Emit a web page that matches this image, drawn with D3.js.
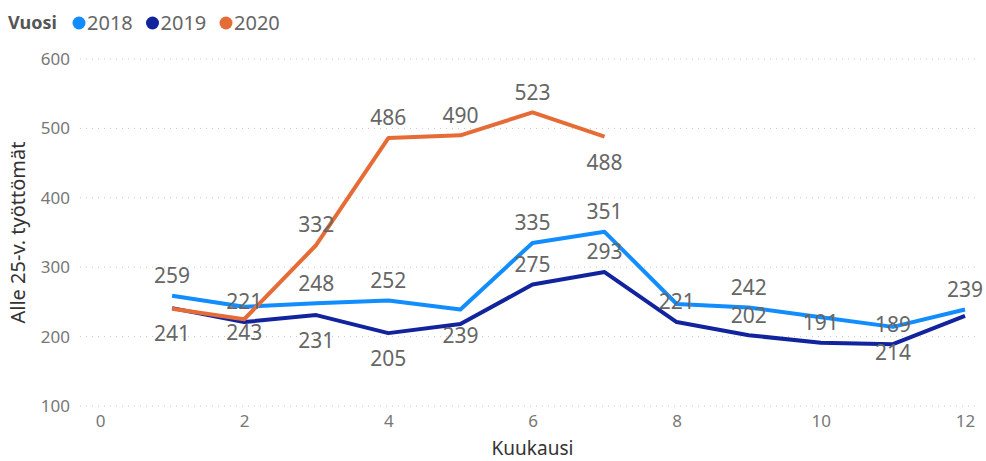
<!DOCTYPE html>
<html>
<head>
<meta charset="utf-8">
<script src="https://cdn.jsdelivr.net/npm/d3@7"></script>
<style>
  body { margin: 0; background: #fff; }
  svg { display: block; }
</style>
</head>
<body>
<script>
// data
const months = [1, 2, 3, 4, 5, 6, 7, 8, 9, 10, 11, 12];
const years = ["2018", "2019", "2020"];
const values2018 = [259, 243, 248, 252, 239, 335, 351, 247, 242, 228, 214, 239];
const values2019 = [241, 221, 231, 205, 218, 275, 293, 221, 202, 191, 189, 230];
const values2020 = [240, 225, 332, 486, 490, 523, 488];
const yTicks = [100, 200, 300, 400, 500, 600];
const xTicks = [0, 2, 4, 6, 8, 10, 12];

// where each data label sits: a = above, b = below, "" = hidden
const labels2018 = ["a", "b", "a", "a", "b", "a", "a", "", "a", "", "b", "a"];
const labels2019 = ["b", "a", "b", "b", "", "a", "a", "a", "a", "a", "a", ""];
const labels2020 = ["", "", "a", "a", "a", "a", "b"];

const colors = { "2018": "#118DFF", "2019": "#12239E", "2020": "#E66C37" };

const w = 986, h = 461;
const font = "'Segoe UI', 'Noto Sans', sans-serif";

const series = [
  { year: "2018", values: values2018, pos: labels2018 },
  { year: "2019", values: values2019, pos: labels2019 },
  { year: "2020", values: values2020, pos: labels2020 }
];

const svg = d3.select("body").append("svg")
  .attr("width", w).attr("height", h);

const x = d3.scaleLinear().domain([0, 12]).range([100, 965]);
const y = d3.scaleLinear().domain([100, 600]).range([406, 59]);

// gridlines
svg.append("g").selectAll("line")
  .data(yTicks).enter().append("line")
  .attr("x1", 80).attr("x2", 978)
  .attr("y1", d => y(d)).attr("y2", d => y(d))
  .attr("stroke", "#c8c8c8")
  .attr("stroke-width", 1)
  .attr("stroke-dasharray", "1,5");

// y axis
const yAxis = svg.append("g")
  .attr("transform", "translate(70,0)")
  .call(d3.axisLeft(y).tickValues(yTicks).tickSize(0).tickPadding(0));
yAxis.select(".domain").remove();
yAxis.selectAll("text")
  .attr("fill", "#777").style("font-family", font).style("font-size", "17px");

// x axis
const xAxis = svg.append("g")
  .attr("transform", "translate(0,415)")
  .call(d3.axisBottom(x).tickValues(xTicks).tickSize(0).tickPadding(0));
xAxis.select(".domain").remove();
xAxis.selectAll("text")
  .attr("fill", "#777").style("font-family", font).style("font-size", "17px");

// axis titles
svg.append("text")
  .attr("transform", "translate(25," + ((y(100) + y(600)) / 2) + ") rotate(-90)")
  .attr("text-anchor", "middle")
  .attr("fill", "#333")
  .style("font-family", font).style("font-size", "20px")
  .text("Alle 25-v. työttömät");

svg.append("text")
  .attr("x", (x(0) + x(12)) / 2).attr("y", 455)
  .attr("text-anchor", "middle")
  .attr("fill", "#333")
  .style("font-family", font).style("font-size", "19px")
  .text("Kuukausi");

// lines
const line = d3.line()
  .x((d, i) => x(months[i]))
  .y(d => y(d));

svg.append("g").selectAll("path")
  .data(series).enter().append("path")
  .attr("d", d => line(d.values))
  .attr("fill", "none")
  .attr("stroke", d => colors[d.year])
  .attr("stroke-width", 4)
  .attr("stroke-linejoin", "round");

// data labels
series.forEach(s => {
  svg.append("g").selectAll("text")
    .data(s.values.map((v, i) => ({ v: v, m: months[i], p: s.pos[i] })).filter(d => d.p))
    .enter().append("text")
    .attr("x", d => x(d.m))
    .attr("y", d => y(d.v) + (d.p === "a" ? -20 : 26))
    .attr("dy", "0.35em")
    .attr("text-anchor", "middle")
    .attr("fill", "#666")
    .style("font-family", font).style("font-size", "21px")
    .text(d => d.v);
});

// legend
const legend = svg.append("g");
legend.append("text")
  .attr("x", 8).attr("y", 23).attr("dy", "0.35em")
  .attr("fill", "#555")
  .style("font-family", font).style("font-size", "18px").style("font-weight", "bold")
  .text("Vuosi");

const legendX = d3.scalePoint().domain(years).range([79, 226]);
const item = legend.selectAll("g.item")
  .data(years).enter().append("g").attr("class", "item");
item.append("circle")
  .attr("cx", d => legendX(d)).attr("cy", 23).attr("r", 6.5)
  .attr("fill", d => colors[d]);
item.append("text")
  .attr("x", d => legendX(d) + 8).attr("y", 23).attr("dy", "0.35em")
  .attr("fill", "#666")
  .style("font-family", font).style("font-size", "20px")
  .text(d => d);
</script>
</body>
</html>
